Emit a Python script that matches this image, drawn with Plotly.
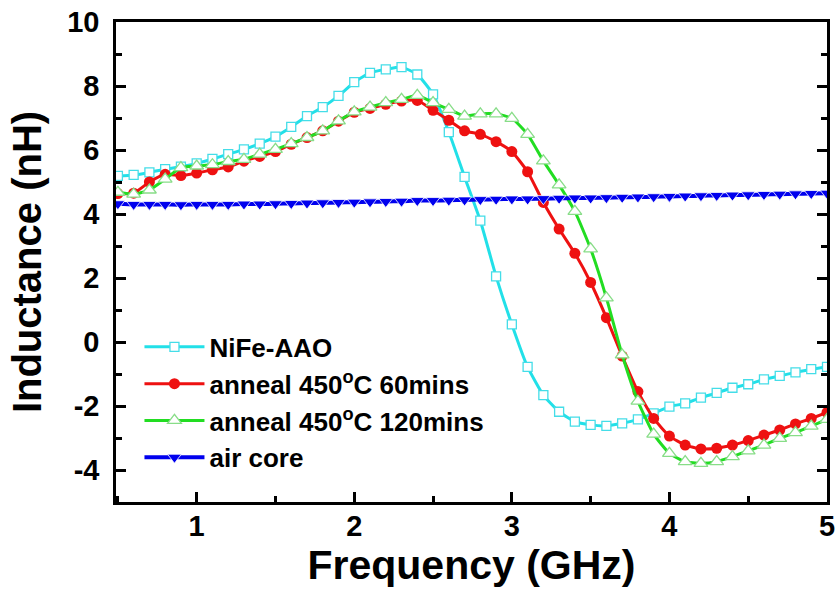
import plotly.graph_objects as go

freq = [0.5, 0.6, 0.7, 0.8, 0.9, 1.0, 1.1, 1.2, 1.3, 1.4,
        1.5, 1.6, 1.7, 1.8, 1.9, 2.0, 2.1, 2.2, 2.3, 2.4,
        2.5, 2.6, 2.7, 2.8, 2.9, 3.0, 3.1, 3.2, 3.3, 3.4,
        3.5, 3.6, 3.7, 3.8, 3.9, 4.0, 4.1, 4.2, 4.3, 4.4,
        4.5, 4.6, 4.7, 4.8, 4.9, 5.0]

nife_aao = [5.19, 5.22, 5.30, 5.40, 5.48, 5.58, 5.72, 5.87, 6.02, 6.20,
            6.42, 6.72, 7.06, 7.34, 7.69, 8.12, 8.41, 8.52, 8.59, 8.36,
            7.74, 6.56, 5.16, 3.79, 2.05, 0.55, -0.78, -1.66, -2.18, -2.49,
            -2.59, -2.62, -2.54, -2.42, -2.23, -2.02, -1.92, -1.74, -1.59, -1.43,
            -1.32, -1.17, -1.06, -0.95, -0.85, -0.78]

anneal_60 = [4.64, 4.65, 5.00, 5.24, 5.20, 5.28, 5.38, 5.47, 5.65, 5.80,
             5.95, 6.18, 6.39, 6.60, 6.90, 7.18, 7.30, 7.43, 7.53, 7.55,
             7.24, 6.93, 6.60, 6.49, 6.26, 5.95, 5.32, 4.36, 3.53, 2.77,
             1.86, 0.76, -0.44, -1.55, -2.39, -2.94, -3.22, -3.34, -3.32, -3.22,
             -3.08, -2.91, -2.75, -2.56, -2.39, -2.20]

anneal_120 = [4.68, 4.62, 4.75, 5.09, 5.45, 5.50, 5.54, 5.64, 5.71, 5.87,
              6.02, 6.20, 6.39, 6.60, 6.91, 7.19, 7.34, 7.48, 7.58, 7.71,
              7.48, 7.27, 7.06, 7.13, 7.13, 6.99, 6.49, 5.66, 4.91, 4.08,
              2.91, 1.38, -0.40, -1.85, -2.88, -3.48, -3.74, -3.79, -3.74, -3.58,
              -3.40, -3.22, -3.01, -2.83, -2.63, -2.42]

air_core = [4.32, 4.30, 4.30, 4.30, 4.29, 4.30, 4.30, 4.30, 4.31, 4.31,
            4.32, 4.33, 4.34, 4.35, 4.36, 4.37, 4.38, 4.39, 4.40, 4.42,
            4.42, 4.43, 4.44, 4.45, 4.46, 4.47, 4.47, 4.48, 4.49, 4.50,
            4.50, 4.51, 4.52, 4.53, 4.54, 4.55, 4.56, 4.57, 4.58, 4.59,
            4.60, 4.61, 4.62, 4.63, 4.64, 4.65]

names = ["NiFe-AAO",
         "anneal 450<sup>o</sup>C 60mins",
         "anneal 450<sup>o</sup>C 120mins",
         "air core"]

x_tickvals = [1, 2, 3, 4, 5]
y_tickvals = [-4, -2, 0, 2, 4, 6, 8, 10]

FONT = "Arial, Liberation Sans, sans-serif"

fig = go.Figure()
fig.add_trace(go.Scatter(
    x=freq, y=nife_aao, name=names[0], mode="lines+markers",
    line=dict(color="#22e0e8", width=3, shape="spline", smoothing=0.5),
    marker=dict(symbol="square", size=9, color="white",
                line=dict(color="#44dde8", width=1.3))))
fig.add_trace(go.Scatter(
    x=freq, y=anneal_60, name=names[1], mode="lines+markers",
    line=dict(color="#ee1111", width=3, shape="spline", smoothing=0.5),
    marker=dict(symbol="circle", size=11, color="#ee1111",
                line=dict(color="#ee1111", width=0))))
fig.add_trace(go.Scatter(
    x=freq, y=anneal_120, name=names[2], mode="lines+markers",
    line=dict(color="#22dd22", width=3, shape="spline", smoothing=0.5),
    marker=dict(symbol="triangle-up", size=12, color="white",
                line=dict(color="#88dd88", width=1.3))))
fig.add_trace(go.Scatter(
    x=freq, y=air_core, name=names[3], mode="lines+markers",
    line=dict(color="#0000ee", width=4, shape="spline", smoothing=0.5),
    marker=dict(symbol="triangle-down", size=12, color="#0000ee",
                line=dict(color="white", width=0.8))))

fig.update_layout(
    width=840, height=596,
    margin=dict(l=116, r=13, t=22, b=94),
    paper_bgcolor="white", plot_bgcolor="white",
    font=dict(family=FONT, color="black"),
    showlegend=True,
    legend=dict(
        x=0.033, y=0.372, xanchor="left", yanchor="top",
        bgcolor="rgba(0,0,0,0)", borderwidth=0,
        font=dict(family=FONT, size=26, weight="bold", color="black"),
        itemwidth=60, tracegroupgap=0,
    ),
)

fig.update_xaxes(
    range=[0.488, 5.0], tickvals=x_tickvals, ticktext=[str(v) for v in x_tickvals],
    automargin=False,
    showgrid=False, zeroline=False,
    showline=True, linecolor="black", linewidth=2.5, mirror=True,
    ticks="inside", ticklen=10, tickwidth=2.5, tickcolor="black",
    minor=dict(ticks="inside", ticklen=6, tickwidth=2.5, tickcolor="black", dtick=0.5, tick0=0.5),
    tickfont=dict(family=FONT, size=29, weight="bold", color="black"),
    ticklabelstandoff=-4,
    title=dict(text="Frequency (GHz)", font=dict(family=FONT, size=41, weight="bold", color="black"),
               standoff=4),
)
fig.update_yaxes(
    range=[-5, 10], tickvals=y_tickvals, ticktext=[str(v) for v in y_tickvals],
    automargin=False,
    showgrid=False, zeroline=False,
    showline=True, linecolor="black", linewidth=2.5, mirror="ticks",
    ticks="inside", ticklen=10, tickwidth=2.5, tickcolor="black",
    minor=dict(ticks="inside", ticklen=6, tickwidth=2.5, tickcolor="black", dtick=1, tick0=-5),
    tickfont=dict(family=FONT, size=29, weight="bold", color="black"),
    ticklabelstandoff=8,
    title=dict(text="Inductance (nH)", font=dict(family=FONT, size=40, weight="bold", color="black"),
               standoff=14),
)

fig.write_html("out.html",
               config={"displayModeBar": False},
               post_script="document.body.style.margin='0';document.body.style.overflow='hidden';")
